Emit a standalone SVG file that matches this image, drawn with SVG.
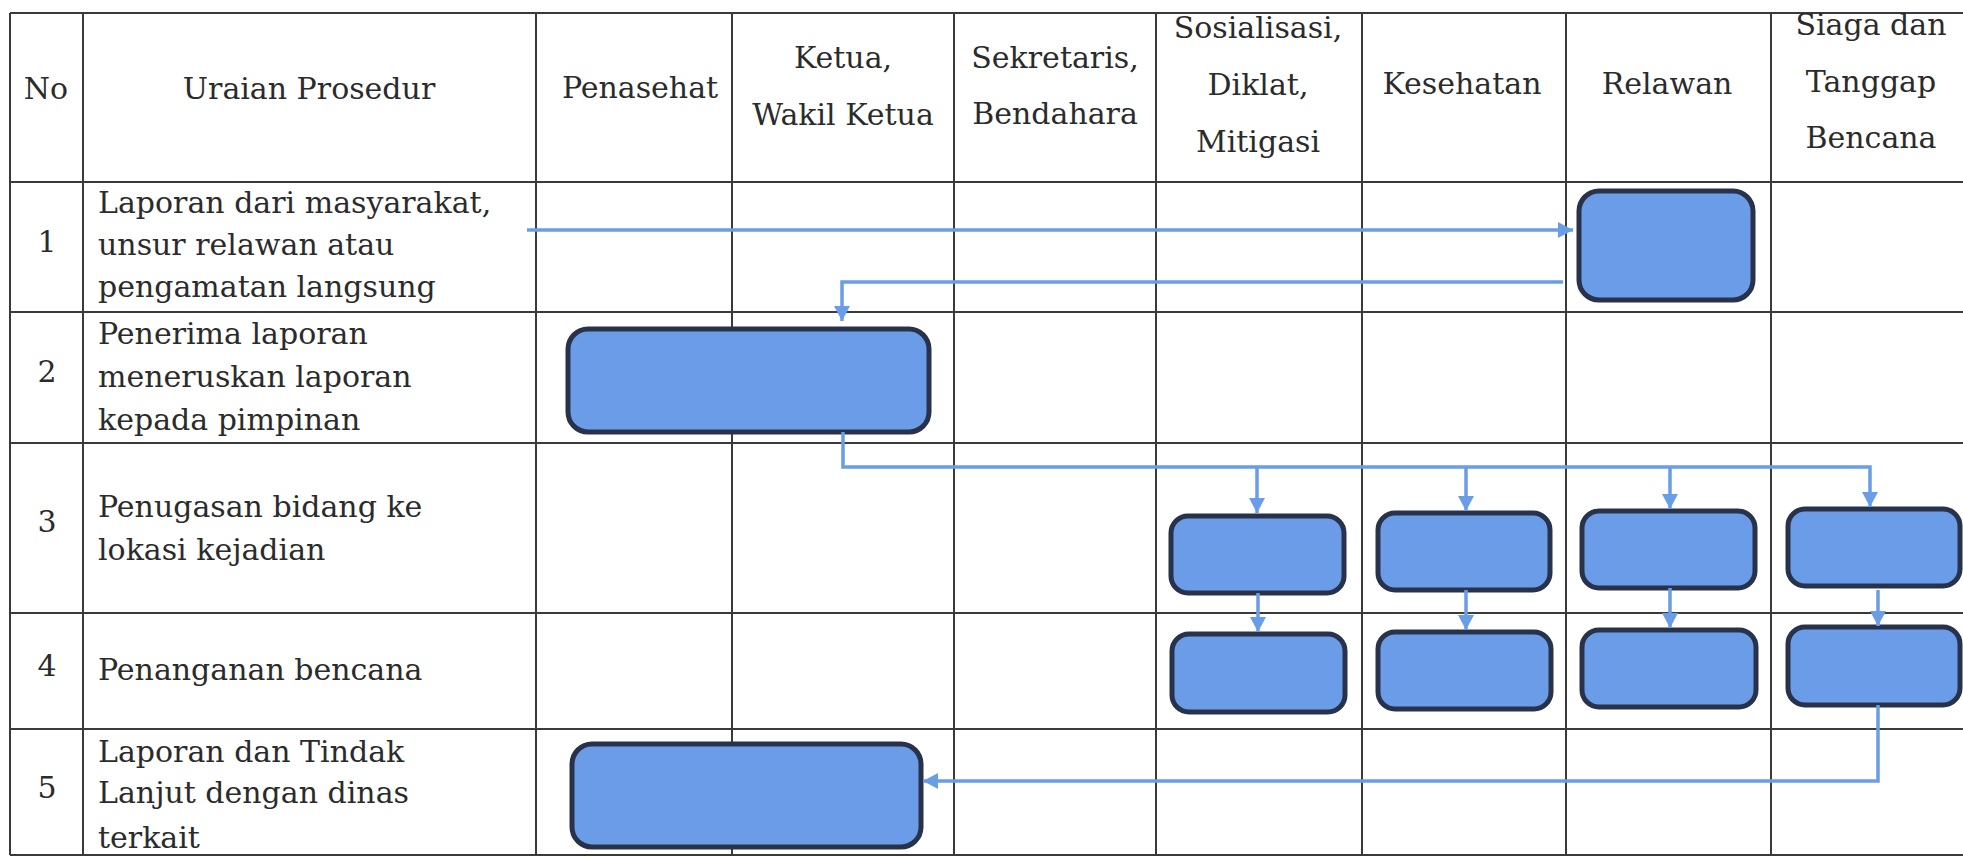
<svg xmlns="http://www.w3.org/2000/svg" width="1963" height="857" viewBox="0 0 1963 857">
<style>
.grid line{stroke:#3a3a3a;stroke-width:2}
.t{font-family:"DejaVu Serif","Liberation Serif",serif;font-size:30px;fill:#2b2b2b}
.c{text-anchor:middle}
.box{fill:#6b9ce8;stroke:#28324a;stroke-width:5}
.conn path{fill:none;stroke:#6a9de8;stroke-width:3.5}
</style>
<defs>
<marker id="ah" markerUnits="userSpaceOnUse" markerWidth="16" markerHeight="16" refX="15" refY="8" orient="auto">
<path d="M0,0 L15,8 L0,16 Z" fill="#6a9de8"/>
</marker>
</defs>
<rect width="1963" height="857" fill="#ffffff"/>
<g class="grid">
<line x1="10" y1="13" x2="1963" y2="13"/>
<line x1="10" y1="182" x2="1963" y2="182"/>
<line x1="10" y1="312" x2="1963" y2="312"/>
<line x1="10" y1="443" x2="1963" y2="443"/>
<line x1="10" y1="613" x2="1963" y2="613"/>
<line x1="10" y1="729" x2="1963" y2="729"/>
<line x1="10" y1="855" x2="1963" y2="855"/>
<line x1="10" y1="13" x2="10" y2="855"/>
<line x1="83" y1="13" x2="83" y2="855"/>
<line x1="536" y1="13" x2="536" y2="855"/>
<line x1="732" y1="13" x2="732" y2="855"/>
<line x1="954" y1="13" x2="954" y2="855"/>
<line x1="1156" y1="13" x2="1156" y2="855"/>
<line x1="1362" y1="13" x2="1362" y2="855"/>
<line x1="1566" y1="13" x2="1566" y2="855"/>
<line x1="1771" y1="13" x2="1771" y2="855"/>
</g>
<g id="header">
<text class="t c" x="46" y="99">No</text>
<text class="t c" x="309" y="99">Uraian Prosedur</text>
<text class="t c" x="640" y="98">Penasehat</text>
<text class="t c" x="843" y="68">Ketua,</text>
<text class="t c" x="843" y="125">Wakil Ketua</text>
<text class="t c" x="1055" y="68">Sekretaris,</text>
<text class="t c" x="1055" y="124">Bendahara</text>
<text class="t c" x="1258" y="38">Sosialisasi,</text>
<text class="t c" x="1258" y="95">Diklat,</text>
<text class="t c" x="1258" y="152">Mitigasi</text>
<text class="t c" x="1462" y="94">Kesehatan</text>
<text class="t c" x="1667" y="94">Relawan</text>
<text class="t c" x="1871" y="35">Siaga dan</text>
<text class="t c" x="1871" y="92">Tanggap</text>
<text class="t c" x="1871" y="148">Bencana</text>
</g>
<g id="rows">
<text class="t c" x="47" y="252">1</text>
<text class="t" x="98" y="213">Laporan dari masyarakat,</text>
<text class="t" x="98" y="255">unsur relawan atau</text>
<text class="t" x="98" y="297">pengamatan langsung</text>
<text class="t c" x="47" y="382">2</text>
<text class="t" x="98" y="344">Penerima laporan</text>
<text class="t" x="98" y="387">meneruskan laporan</text>
<text class="t" x="98" y="430">kepada pimpinan</text>
<text class="t c" x="47" y="532">3</text>
<text class="t" x="98" y="517">Penugasan bidang ke</text>
<text class="t" x="98" y="560">lokasi kejadian</text>
<text class="t c" x="47" y="676">4</text>
<text class="t" x="98" y="680">Penanganan bencana</text>
<text class="t c" x="47" y="798">5</text>
<text class="t" x="98" y="762">Laporan dan Tindak</text>
<text class="t" x="98" y="803">Lanjut dengan dinas</text>
<text class="t" x="98" y="848">terkait</text>
</g>
<g id="node-relawan"><rect class="box" x="1579" y="191" width="174" height="109" rx="20"/></g>
<g id="node-pimpinan"><rect class="box" x="568" y="329" width="361" height="103" rx="20"/></g>
<g id="node-3a"><rect class="box" x="1171" y="516" width="173" height="77" rx="17"/></g>
<g id="node-3b"><rect class="box" x="1378" y="513" width="172" height="77" rx="17"/></g>
<g id="node-3c"><rect class="box" x="1582" y="511" width="173" height="77" rx="17"/></g>
<g id="node-3d"><rect class="box" x="1788" y="509" width="172" height="77" rx="17"/></g>
<g id="node-4a"><rect class="box" x="1172" y="634" width="173" height="78" rx="17"/></g>
<g id="node-4b"><rect class="box" x="1378" y="632" width="173" height="77" rx="17"/></g>
<g id="node-4c"><rect class="box" x="1582" y="630" width="174" height="77" rx="17"/></g>
<g id="node-4d"><rect class="box" x="1788" y="627" width="172" height="78" rx="17"/></g>
<g id="node-laporan"><rect class="box" x="572" y="744" width="349" height="103" rx="20"/></g>
<g class="conn">
<path d="M527,230 L1573,230" marker-end="url(#ah)"/>
<path d="M1563,282 L842,282 L842,321" marker-end="url(#ah)"/>
<path d="M843,432 L843,467 L1870,467 L1870,507" marker-end="url(#ah)"/>
<path d="M1257,467 L1257,513" marker-end="url(#ah)"/>
<path d="M1466,467 L1466,511" marker-end="url(#ah)"/>
<path d="M1670,467 L1670,509" marker-end="url(#ah)"/>
<path d="M1258,593 L1258,632" marker-end="url(#ah)"/>
<path d="M1466,590 L1466,630" marker-end="url(#ah)"/>
<path d="M1670,588 L1670,628" marker-end="url(#ah)"/>
<path d="M1878,590 L1878,626" marker-end="url(#ah)"/>
<path d="M1878,705 L1878,781 L923,781" marker-end="url(#ah)"/>
</g>
</svg>
